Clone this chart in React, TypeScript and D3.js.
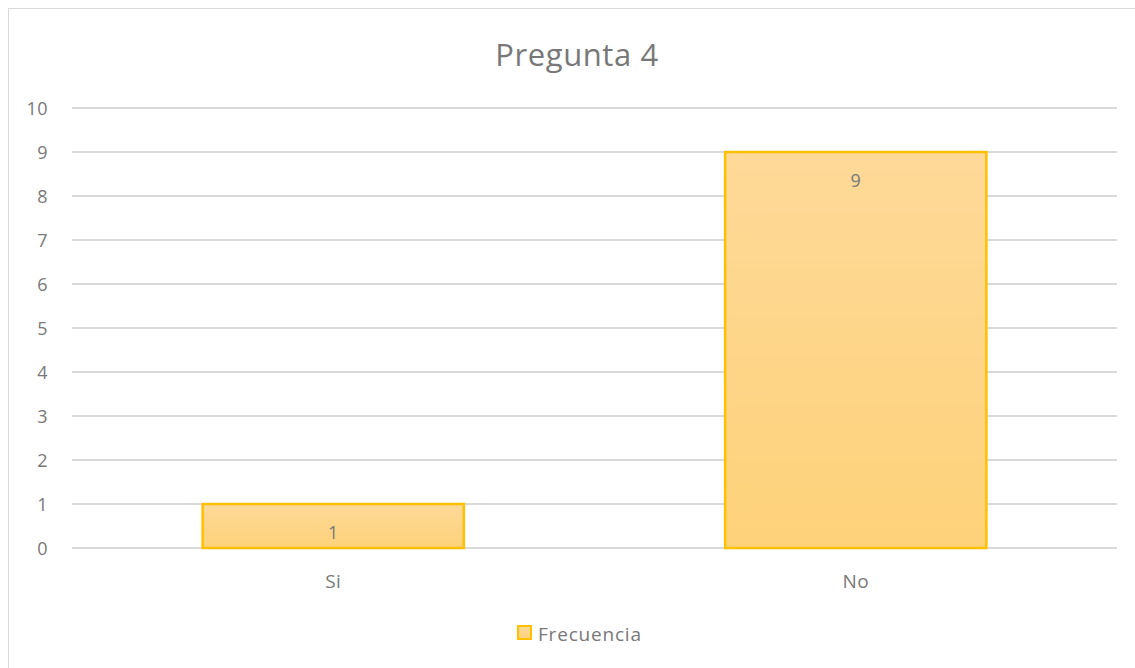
import * as d3 from 'd3';
import * as React from 'react';

const categories = ['Si', 'No'];
const values = [1, 9];
const yTicks = [0, 1, 2, 3, 4, 5, 6, 7, 8, 9, 10];
const seriesName = 'Frecuencia';
const title = 'Pregunta 4';

const W = 1135;
const H = 668;
const FONT = '"Open Sans", "Noto Sans", sans-serif';
const TEXT = '#787878';

export default function App() {
  const margin = { left: 72, right: 18, top: 108, bottom: 120 };
  const x = d3
    .scaleBand<string>()
    .domain(categories)
    .range([margin.left, W - margin.right])
    .paddingInner(0.5)
    .paddingOuter(0.25);
  const y = d3.scaleLinear().domain([0, 10]).range([H - margin.bottom, margin.top]);

  return (
    <div style={{ position: 'absolute', left: 0, top: 0 }}>
      <svg width={W} height={H} style={{ display: 'block', fontFamily: FONT }}>
        <defs>
          <linearGradient id="barFill" x1="0" y1="0" x2="0" y2="1">
            <stop offset="0%" stopColor="#FED998" />
            <stop offset="100%" stopColor="#FED27A" />
          </linearGradient>
        </defs>
        <rect x={0} y={0} width={W} height={H} fill="#fff" />
        <rect x={8.5} y={8.5} width={W + 10} height={H + 10} fill="none" stroke="#d9d9d9" />
        <text x={577} y={66} textAnchor="middle" fontSize={31} letterSpacing={0.6} fill={TEXT}>
          {title}
        </text>
        {yTicks.map((t) => (
          <g key={t}>
            <line
              x1={margin.left}
              x2={W - margin.right}
              y1={y(t)}
              y2={y(t)}
              stroke="#d9d9d9"
              strokeWidth={2}
            />
            <text x={48} y={y(t) + 6.5} textAnchor="end" fontSize={18} letterSpacing={0.5} fill={TEXT}>
              {t}
            </text>
          </g>
        ))}
        {categories.map((c, i) => {
          const bx = x(c)!;
          const bw = x.bandwidth();
          return (
            <g key={c}>
              <rect
                x={bx}
                y={y(values[i])}
                width={bw}
                height={y(0) - y(values[i])}
                fill="url(#barFill)"
                stroke="#FFC000"
                strokeWidth={2.5}
              />
              <text
                x={bx + bw / 2}
                y={y(values[i]) + 35}
                textAnchor="middle"
                fontSize={18}
                fill={TEXT}
              >
                {values[i]}
              </text>
              <text x={bx + bw / 2} y={588} textAnchor="middle" fontSize={19} letterSpacing={0.5} fill={TEXT}>
                {c}
              </text>
            </g>
          );
        })}
        <rect x={518} y={626} width={13} height={13} fill="url(#barFill)" stroke="#FFC000" strokeWidth={2} />
        <text x={538} y={641} fontSize={19} letterSpacing={0.8} fill={TEXT}>
          {seriesName}
        </text>
      </svg>
    </div>
  );
}
